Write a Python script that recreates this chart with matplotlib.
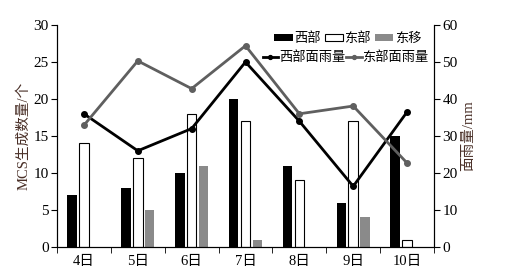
import numpy as np
import matplotlib
matplotlib.use("Agg")
import matplotlib.pyplot as plt

plt.rcParams['font.family'] = ['Liberation Serif', 'Noto Sans CJK SC']
plt.rcParams['font.size'] = 10

days = ['4日', '5日', '6日', '7日', '8日', '9日', '10日']
west_cnt = [7, 8, 10, 20, 11, 6, 15]
east_cnt = [14, 12, 18, 17, 9, 17, 1]
move_cnt = [0, 5, 11, 1, 0, 4, 0]
west_rain = [36, 26, 32, 50, 34, 16.4, 36.5]
east_rain = [32.9, 50.3, 42.8, 54.4, 36, 38.1, 22.7]

x = np.arange(len(days))
w = 0.18
step = 0.22

fig = plt.figure(figsize=(5.06, 2.72), dpi=100)
ax = fig.add_axes([57 / 506, 25 / 272, 377 / 506, 222 / 272])

b1 = ax.bar(x - step, west_cnt, w, color='black', label='西部')
b2 = ax.bar(x, east_cnt, w, color='white', edgecolor='black', linewidth=0.8, label='东部')
b3 = ax.bar(x + step, move_cnt, w, color='#8a8a8a', label='东移')

ax.set_xlim(-0.5, len(days) - 0.5)
ax.set_ylim(0, 30)
ax.set_yticks(range(0, 31, 5))
ax.set_xticks(x)
ax.set_xticklabels(days, fontsize=10.5)
ax.set_xticks(np.arange(-0.5, len(days), 1), minor=True)
ax.tick_params(axis='x', which='major', length=0, pad=6)
ax.tick_params(axis='x', which='minor', length=4, direction='out')
ax.tick_params(axis='y', length=4, direction='out', pad=2, labelsize=11)
ax.set_ylabel('MCS生成数量/个', color='#4a3028', labelpad=2, fontsize=10.5)
ax.spines['top'].set_visible(False)

ax2 = ax.twinx()
l1, = ax2.plot(x, west_rain, color='black', lw=2, marker='o', ms=4, label='西部面雨量')
l2, = ax2.plot(x, east_rain, color='#5f5f5f', lw=2, marker='o', ms=4, label='东部面雨量')
ax2.set_ylim(0, 60)
ax2.set_yticks(range(0, 61, 10))
ax2.tick_params(axis='y', length=4, direction='out', pad=2, labelsize=11)
ax2.set_ylabel('面雨量/mm', color='#4a3028', labelpad=3, fontsize=10.5)
ax2.spines['top'].set_visible(False)

leg1 = ax2.legend(handles=[b1, b2, b3], loc='upper right', bbox_to_anchor=(0.98, 0.99),
                  ncol=3, frameon=False, handlelength=1.4, handleheight=0.45,
                  handletextpad=0.1, columnspacing=0.3, borderaxespad=0, fontsize=9.5)
ax2.add_artist(leg1)
ax2.legend(handles=[l1, l2], loc='upper right', bbox_to_anchor=(1.0, 0.905),
           ncol=2, frameon=False, handlelength=1.2, handletextpad=0.05,
           columnspacing=0.05, borderaxespad=0, fontsize=9.5, markerscale=0.7)

plt.savefig('out.png', dpi=100)
